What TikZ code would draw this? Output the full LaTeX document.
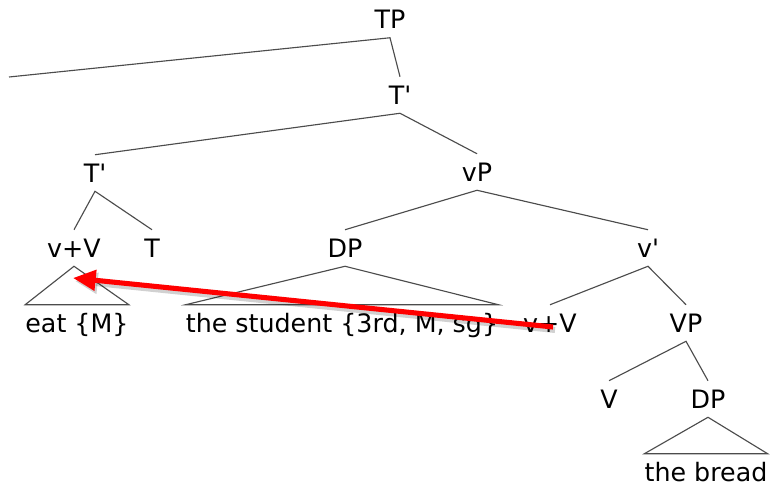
\documentclass[tikz,border=0pt]{standalone}
\usepackage{fontspec}
\setmainfont{DejaVu Sans}
\usepackage{tikz}
\usetikzlibrary{arrows.meta}

\newcommand{\barmark}{\textquotesingle}

\begin{document}
\begin{tikzpicture}[x=0.75pt,y=-0.75pt,
  lbl/.style={font=\fontsize{19}{22}\selectfont, text height=14pt, text depth=0pt,
    inner xsep=0pt, inner ysep=6.5pt},
  branch/.style={draw=black!70, line width=0.85pt},
  move/.style={draw=red, line width=3.8pt, -{Triangle[length=17pt,width=15pt]}},
  moveshadow/.style={draw=black, opacity=0.18, line width=4.5pt, -{Triangle[length=17pt,width=15pt]}}]
\useasboundingbox (0,0) rectangle (770,489);

\node[lbl] (tp)     at (390,19.5) {TP};
\node[lbl] (tbar)   at (400,95)   {T\barmark};
\node[lbl] (tbarb)  at (95,173)   {T\barmark};
\node[lbl] (vsp)    at (477,172)  {vP};
\node[lbl] (vv)     at (74,248)   {v+V};
\node[lbl] (thead)  at (152,248)  {T};
\node[lbl] (dpsubj) at (345,248)  {DP};
\node[lbl] (vbar)   at (648,248)  {v\barmark};
\node[lbl] (eat)    at (77,323)   {eat \{M\}};
\node[lbl] (student) at (342,323) {the student \{3rd, M, sg\}};
\node[lbl] (vvlow)  at (550,323)  {v+V};
\node[lbl] (vp)     at (686,323)  {VP};
\node[lbl] (vhead)  at (609,399)  {V};
\node[lbl] (dpobj)  at (708,399)  {DP};
\node[lbl] (bread)  at (706,472)  {the bread};

\coordinate (spec) at (9,77);

\draw[branch] (spec) -- (tp.south) -- (tbar.north);
\draw[branch] (tbarb.north) -- (tbar.south) -- (vsp.north);
\draw[branch] (vv.north) -- (tbarb.south) -- (thead.north);
\draw[branch] (dpsubj.north) -- (vsp.south) -- (vbar.north);
\draw[branch] (vvlow.north) -- (vbar.south) -- (vp.north);
\draw[branch] (vhead.north) -- (vp.south) -- (dpobj.north);

\draw[branch] (vv.south) -- (eat.north west) -- (eat.north east) -- cycle;
\draw[branch] (dpsubj.south) -- (student.north west) -- (student.north east) -- cycle;
\draw[branch] (dpobj.south) -- (bread.north west) -- (bread.north east) -- cycle;

\coordinate (mvfrom) at (553,327);
\coordinate (mvto) at (73,278);
\draw[moveshadow] ([shift={(2,3)}]mvfrom) -- ([shift={(2,3)}]mvto);
\draw[move] (mvfrom) -- (mvto);

\end{tikzpicture}
\end{document}
